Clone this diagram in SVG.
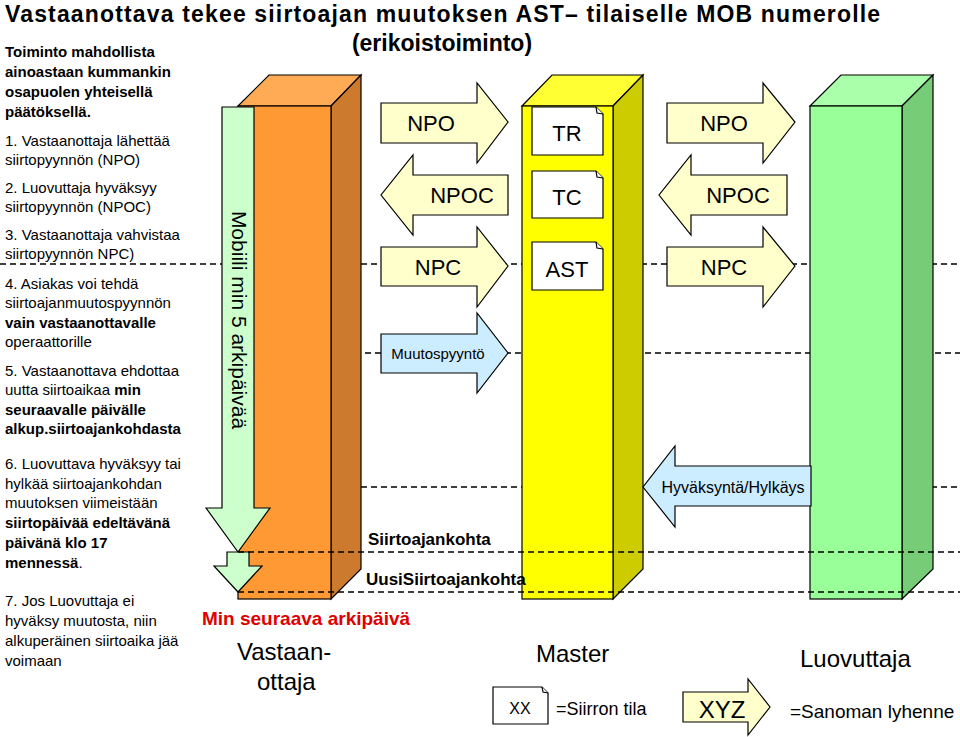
<svg xmlns="http://www.w3.org/2000/svg" width="960" height="737" viewBox="0 0 960 737">
<style>
text{font-family:"Liberation Sans",Arial,sans-serif;fill:#000}
.l{font-size:15px}
.b{font-weight:bold}
.d{stroke:#000;stroke-width:1.3;stroke-dasharray:6,4;fill:none}
.o{stroke:#000;stroke-width:1.2}
.y{fill:#FFFFCC;stroke:#000;stroke-width:1.2}
.bl{fill:#CCECFF;stroke:#000;stroke-width:1.2}
.doc{fill:#fff;stroke:#000;stroke-width:1.2}
.c{text-anchor:middle}
</style>
<rect width="960" height="737" fill="#fff"/>
<g id="title">
<text x="5" y="22" font-size="23" class="b" textLength="875">Vastaanottava tekee siirtoajan muutoksen AST– tilaiselle MOB numerolle</text>
<text x="442" y="51" font-size="23" class="b c">(erikoistoiminto)</text>
</g>
<g id="lefttext" class="l">
<text x="5" y="57" class="b">Toiminto mahdollista</text>
<text x="5" y="77" class="b">ainoastaan kummankin</text>
<text x="5" y="97" class="b">osapuolen yhteisellä</text>
<text x="5" y="117" class="b">päätöksellä.</text>
<text x="5" y="146">1. Vastaanottaja lähettää</text>
<text x="5" y="165">siirtopyynnön (NPO)</text>
<text x="5" y="193">2. Luovuttaja hyväksyy</text>
<text x="5" y="212">siirtopyynnön (NPOC)</text>
<text x="5" y="240">3. Vastaanottaja vahvistaa</text>
<text x="5" y="259">siirtopyynnön NPC)</text>
<text x="5" y="289">4. Asiakas voi tehdä</text>
<text x="5" y="308">siirtoajanmuutospyynnön</text>
<text x="5" y="328" class="b">vain vastaanottavalle</text>
<text x="5" y="347">operaattorille</text>
<text x="5" y="376">5. Vastaanottava ehdottaa</text>
<text x="5" y="395">uutta siirtoaikaa <tspan class="b">min</tspan></text>
<text x="5" y="415" class="b">seuraavalle päivälle</text>
<text x="5" y="434" class="b">alkup.siirtoajankohdasta</text>
<text x="5" y="469">6. Luovuttava hyväksyy  tai</text>
<text x="5" y="489">hylkää siirtoajankohdan</text>
<text x="5" y="508">muutoksen viimeistään</text>
<text x="5" y="528" class="b">siirtopäivää edeltävänä</text>
<text x="5" y="548" class="b">päivänä klo 17</text>
<text x="5" y="568"><tspan class="b">mennessä</tspan>.</text>
<text x="5" y="606">7. Jos Luovuttaja ei</text>
<text x="5" y="626">hyväksy muutosta, niin</text>
<text x="5" y="646">alkuperäinen siirtoaika jää</text>
<text x="5" y="666">voimaan</text>
</g>
<g id="connectors">
<line class="d" x1="0" y1="264" x2="222" y2="264"/>
<line class="d" x1="331" y1="264" x2="960" y2="264"/>
<line class="d" x1="365" y1="353" x2="960" y2="353"/>
<line class="d" x1="331" y1="487" x2="960" y2="487"/>
</g>
<g id="vastaanottaja">
<polygon class="o" fill="#FFAA55" points="238,106 269,75 361,75 331,106"/>
<polygon class="o" fill="#CC7A2E" points="331,106 361,75 361,569 331,599"/>
<rect class="o" fill="#FF9933" x="238" y="106" width="93" height="493"/>
</g>
<g id="master">
<polygon class="o" fill="#FFFF33" points="522,106 552,75 643,75 613,106"/>
<polygon class="o" fill="#CCCC00" points="613,106 643,75 643,569 613,599"/>
<rect class="o" fill="#FFFF00" x="522" y="106" width="91" height="493"/>
</g>
<g id="luovuttaja">
<polygon class="o" fill="#AAFFAA" points="810,106 841,75 933,75 902,106"/>
<polygon class="o" fill="#77CC77" points="902,106 933,75 933,569 902,599"/>
<rect class="o" fill="#99FF99" x="810" y="106" width="92" height="493"/>
</g>
<g id="mobiili">
<polygon fill="#CCFFCC" stroke="#000" stroke-width="1.2" points="222,107 254,107 254,508 270,508 238,552 206,508 222,508"/>
<polygon fill="#CCFFCC" stroke="#000" stroke-width="1.2" points="227,552 249,552 249,566 262,566 238,592 214,566 227,566"/>
<text transform="translate(232,320) rotate(90)" font-size="21" class="c">Mobiili min 5 arkipäivää</text>
</g>
<g id="dashlines2">
<line class="d" x1="238" y1="552" x2="960" y2="552"/>
<line class="d" x1="238" y1="592" x2="960" y2="592"/>
</g>
<g id="npo1"><polygon class="y" points="381,103 477,103 477,83 508,122 477,163 477,143 381,143"/><text x="431" y="131" font-size="22" class="c">NPO</text></g>
<g id="npoc1"><polygon class="y" points="508,175 413,175 413,155 381,195 413,235 413,215 508,215"/><text x="462" y="203" font-size="22" class="c">NPOC</text></g>
<g id="npc1"><polygon class="y" points="381,247 477,247 477,227 508,266 477,307 477,286 381,286"/><text x="438" y="275" font-size="22" class="c">NPC</text></g>
<g id="muutos"><polygon class="bl" points="381,334 477,334 477,313 508,353 477,393 477,373 381,373"/><text x="438" y="359" font-size="15" class="c">Muutospyyntö</text></g>
<g id="npo2"><polygon class="y" points="667,103 763,103 763,83 795,122 763,163 763,143 667,143"/><text x="724" y="131" font-size="22" class="c">NPO</text></g>
<g id="npoc2"><polygon class="y" points="787,175 691,175 691,155 659,195 691,235 691,215 787,215"/><text x="738" y="203" font-size="22" class="c">NPOC</text></g>
<g id="npc2"><polygon class="y" points="667,247 763,247 763,227 795,266 763,307 763,286 667,286"/><text x="724" y="275" font-size="22" class="c">NPC</text></g>
<g id="hyv"><polygon class="bl" points="811,466 675,466 675,446 643,487 675,527 675,506 811,506"/><text x="733" y="493" font-size="16" class="c">Hyväksyntä/Hylkäys</text></g>
<g id="tr"><polygon class="doc" points="532,107 596,107 603,114 603,155 532,155"/><polyline class="doc" points="596,107 597,113 603,114"/><text x="567" y="141" font-size="22" class="c">TR</text></g>
<g id="tc"><polygon class="doc" points="532,171 596,171 603,178 603,218 532,218"/><polyline class="doc" points="596,171 597,177 603,178"/><text x="567" y="205" font-size="22" class="c">TC</text></g>
<g id="ast"><polygon class="doc" points="532,242 596,242 603,249 603,290 532,290"/><polyline class="doc" points="596,242 597,248 603,249"/><text x="567" y="277" font-size="22" class="c">AST</text></g>
<g id="labels">
<text x="368" y="545" font-size="17" class="b">Siirtoajankohta</text>
<text x="366" y="585" font-size="17" class="b">UusiSiirtoajankohta</text>
<text x="202" y="625" font-size="19" class="b" fill="#E00000" style="fill:#E00000">Min seuraava arkipäivä</text>
<text x="237" y="660" font-size="24">Vastaan-</text>
<text x="257" y="690" font-size="24">ottaja</text>
<text x="536" y="662" font-size="24">Master</text>
<text x="800" y="667" font-size="24">Luovuttaja</text>
</g>
<g id="legend">
<polygon class="doc" points="493,687 542,687 548,693 548,724 493,724"/><polyline class="doc" points="542,687 543,692 548,693"/>
<text x="520" y="714" font-size="16" class="c">XX</text>
<text x="556" y="715" font-size="18">=Siirron tila</text>
<polygon class="y" points="683,692 748,692 748,679 770,707 748,735 748,722 683,722"/>
<text x="722" y="718" font-size="24" class="c">XYZ</text>
<text x="790" y="718" font-size="19">=Sanoman lyhenne</text>
</g>
</svg>
